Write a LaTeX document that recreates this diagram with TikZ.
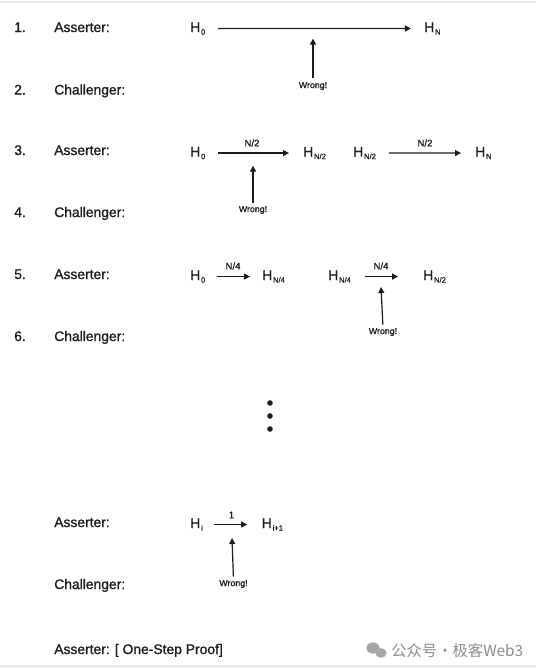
\documentclass[tikz,border=0pt]{standalone}
\usepackage{fontspec}
\usetikzlibrary{arrows.meta}
\newfontfamily\medf{Liberation Sans}[FakeBold=1.1]
\newfontfamily\cjkf{Noto Sans CJK SC}
\definecolor{txt}{HTML}{1C1C1C}
\newcommand\Hsub[1]{H\kern0.6pt\raisebox{-0.35ex}{\fontsize{5.7}{6}\selectfont #1}}
\begin{document}
\begin{tikzpicture}[x=0.75pt,y=-0.75pt,
  lbl/.style={anchor=base west, inner sep=0pt, font=\medf\fontsize{10.4}{12}\selectfont, text=txt},
  hnode/.style={anchor=base west, inner sep=0pt, font=\medf\fontsize{10.4}{12}\selectfont, text=txt},
  arr/.style={draw=txt, line width=0.9pt, -{Triangle[length=4.5pt,width=4.5pt]}},
  wrong/.style={inner sep=0pt, font=\medf\fontsize{6.6}{7}\selectfont, text=txt},
  steplbl/.style={inner sep=0pt, font=\medf\fontsize{7.2}{8}\selectfont, text=txt},
  dot/.style={fill=txt}]
\useasboundingbox (0,0) rectangle (536,668);
\fill[white] (0,0) rectangle (536,668);
\fill[black!8] (0,1) rectangle (536,3);
\fill[black!8] (0,665) rectangle (536,668);

% ---------- rows 1-2
\node[lbl] (n1) at (14,32) {1.};
\node[lbl] (a1) at (54,32) {Asserter:};
\node[lbl] (n2) at (14,94.5) {2.};
\node[lbl] (c2) at (54,94.5) {Challenger:};
\node[hnode] (r1a) at (190,32) {\Hsub{0}};
\node[hnode] (r1b) at (424,32) {\Hsub{N}};
\draw[arr, shorten <=9.4pt, shorten >=9.8pt] (r1a.east) -- (r1b.west);
\node[wrong] (w1) at (313,86) {Wrong!};
\coordinate (t1) at (313,38.6);
\draw[arr, shorten <=2.6pt] (w1.north) -- (t1);

% ---------- rows 3-4
\node[lbl] (n3) at (14,155) {3.};
\node[lbl] (a3) at (54,155) {Asserter:};
\node[lbl] (n4) at (14,217) {4.};
\node[lbl] (c4) at (54,217) {Challenger:};
\node[hnode] (r3a) at (190,156.5) {\Hsub{0}};
\node[hnode] (r3b) at (303,156.5) {\Hsub{N/2}};
\node[hnode] (r3c) at (353,156.5) {\Hsub{N/2}};
\node[hnode] (r3d) at (475,156.5) {\Hsub{N}};
\draw[arr, shorten <=9.4pt, shorten >=10.5pt] (r3a.east) -- (r3b.west);
\draw[arr, shorten <=9.8pt, shorten >=10.5pt] (r3c.east) -- (r3d.west);
\node[steplbl] (s3a) at (252,143) {N/2};
\node[steplbl] (s3b) at (425,143) {N/2};
\node[wrong] (w3) at (253,210) {Wrong!};
\coordinate (t3) at (253,165.7);
\draw[arr, shorten <=2.4pt] (w3.north) -- (t3);

% ---------- rows 5-6
\node[lbl] (n5) at (14,279) {5.};
\node[lbl] (a5) at (54,279) {Asserter:};
\node[lbl] (n6) at (14,341) {6.};
\node[lbl] (c6) at (54,341) {Challenger:};
\node[hnode] (r5a) at (190,280) {\Hsub{0}};
\node[hnode] (r5b) at (262,280) {\Hsub{N/4}};
\node[hnode] (r5c) at (328,280) {\Hsub{N/4}};
\node[hnode] (r5d) at (423,280) {\Hsub{N/2}};
\draw[arr, shorten <=8.6pt, shorten >=9pt] (r5a.east) -- (r5b.west);
\draw[arr, shorten <=10.5pt, shorten >=18.7pt] (r5c.east) -- (r5d.west);
\node[steplbl] (s5a) at (233,266) {N/4};
\node[steplbl] (s5b) at (381,266) {N/4};
\node[wrong] (w5) at (383,332) {Wrong!};
\coordinate (t5) at (381,287);
\draw[arr, shorten <=2.4pt] (w5.north) -- (t5);

% ---------- dots
\fill[dot] (270,403) circle[radius=2.1pt];
\fill[dot] (270,416) circle[radius=2.1pt];
\fill[dot] (270,429) circle[radius=2.1pt];

% ---------- final rows
\node[lbl] (a7) at (54,527) {Asserter:};
\node[lbl] (c7) at (54,589) {Challenger:};
\node[hnode] (r7a) at (190,528) {\Hsub{i}};
\node[hnode] (r7b) at (261.5,528) {\Hsub{i+1}};
\draw[arr, shorten <=8.5pt, shorten >=10.8pt] (r7a.east) -- (r7b.west);
\node[steplbl] (s7) at (231.5,515) {1};
\node[wrong] (w7) at (233.5,584) {Wrong!};
\coordinate (t7) at (232,538);
\draw[arr, shorten <=2.4pt] (w7.north) -- (t7);

\node[lbl] (a8) at (54,654) {Asserter: [ One-Step Proof]};

% ---------- watermark
\fill[black!35] (373,648) ellipse[x radius=5pt, y radius=4.2pt];
\fill[black!35] (381,653) ellipse[x radius=4.2pt, y radius=3.6pt];
\node[anchor=base west, inner sep=0pt, font=\cjkf\fontsize{11.5}{12}\selectfont, text=black!45] (wm) at (391,656) {公众号·极客Web3};
\end{tikzpicture}
\end{document}
